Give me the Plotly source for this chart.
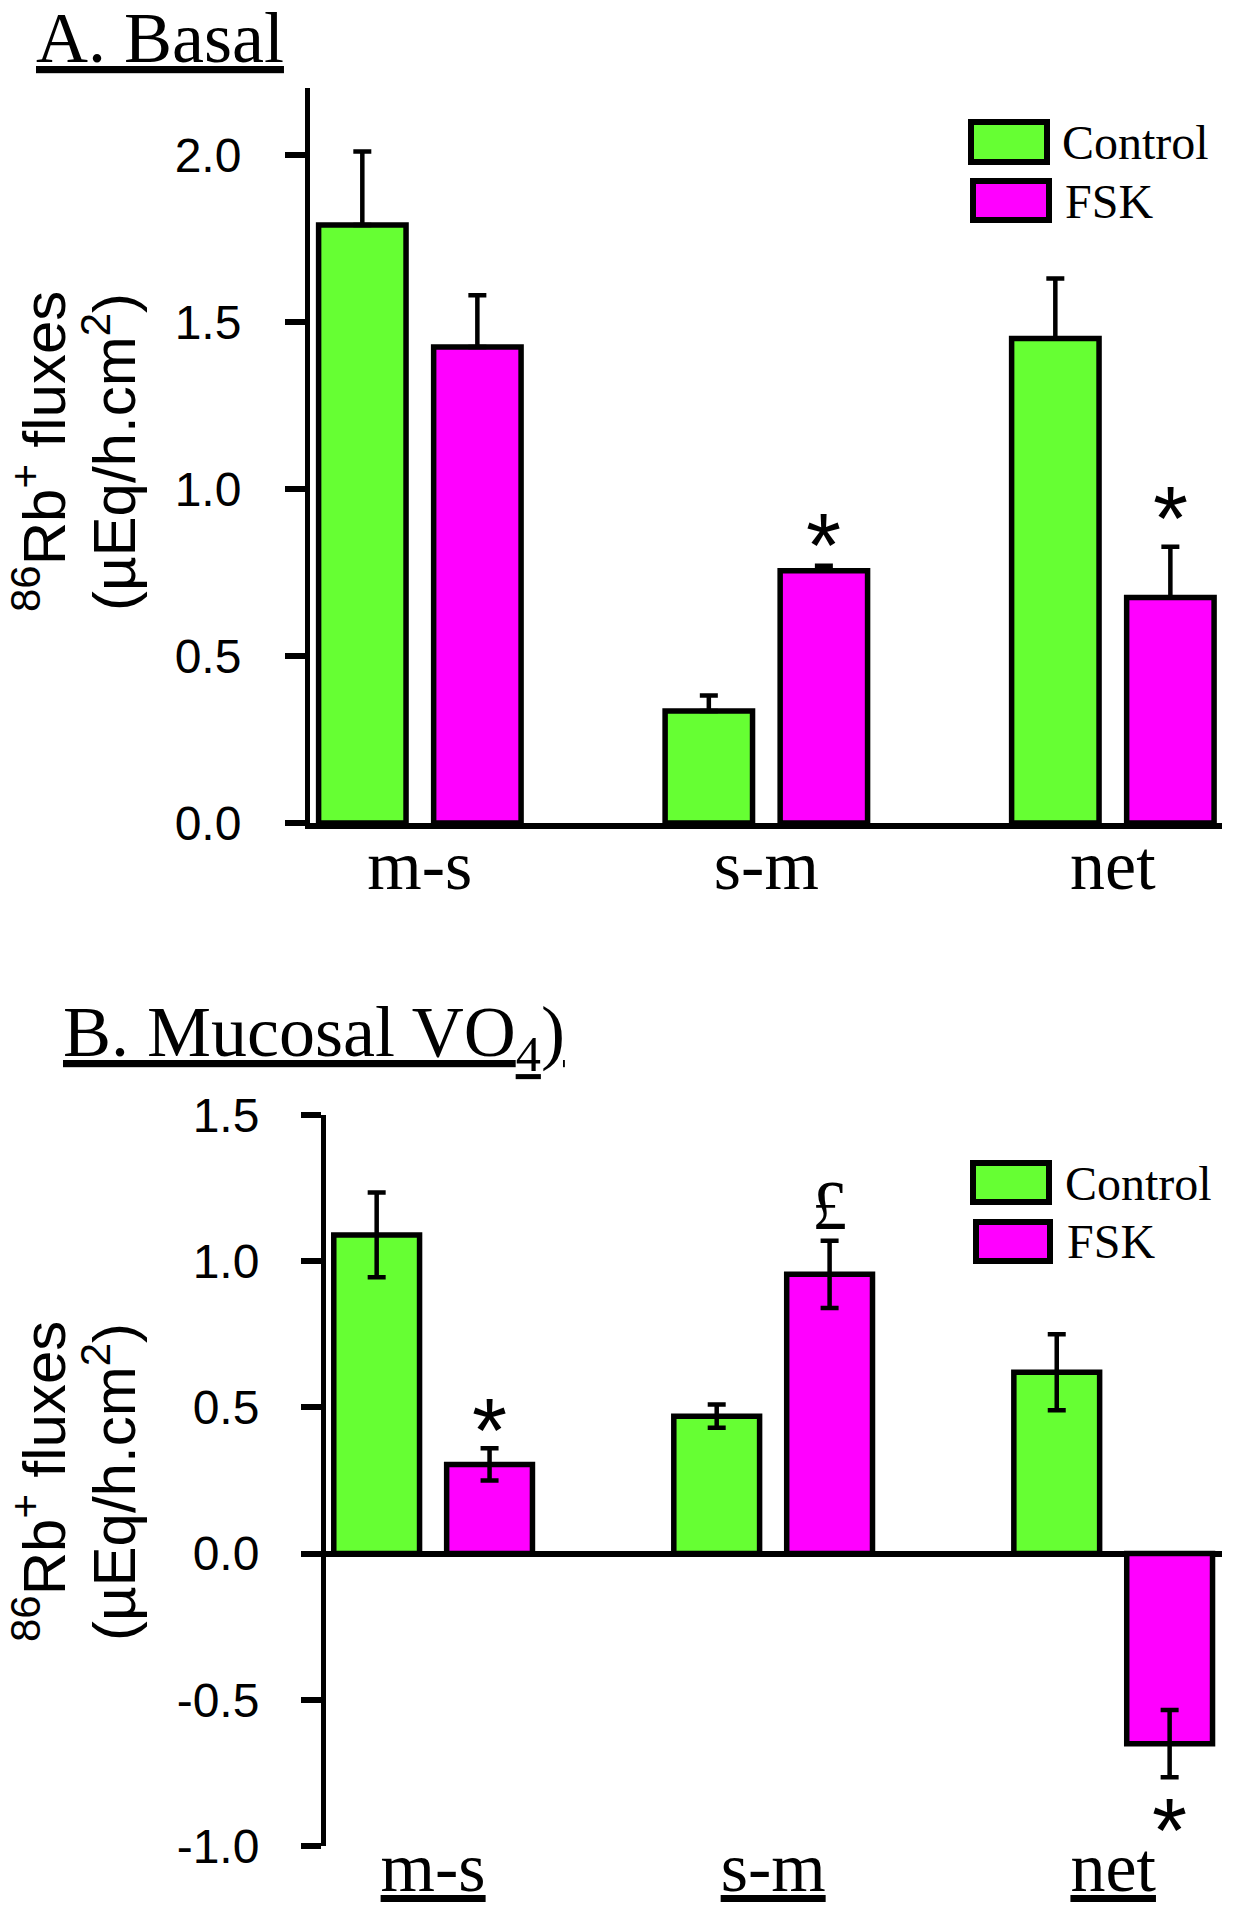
import plotly.graph_objects as go

categories = ["m-s", "s-m", "net"]
series_names = ["Control", "FSK"]

# Panel A: Basal
a_control = [1.79, 0.335, 1.45]
a_control_err = [0.22, 0.047, 0.18]
a_fsk = [1.425, 0.755, 0.675]
a_fsk_err = [0.155, 0.015, 0.152]

# Panel B: Mucosal VO4
b_control = [1.09, 0.47, 0.62]
b_control_err = [0.145, 0.04, 0.13]
b_fsk = [0.305, 0.955, -0.65]
b_fsk_err = [0.055, 0.115, 0.115]

a_ticks = [0.0, 0.5, 1.0, 1.5, 2.0]
b_ticks = [-1.0, -0.5, 0.0, 0.5, 1.0, 1.5]

GREEN = "#66FF33"
MAGENTA = "#FF00FF"
SERIF = "Liberation Serif"
SANS = "Liberation Sans"

W, H = 1234, 1920


def px(x):
    return x / W


def py(y):
    return 1 - y / H


fig = go.Figure()

err_style = dict(color="black", thickness=4.5, width=9)
bar_line = dict(color="black", width=5.5)

fig.add_trace(go.Bar(x=categories, y=a_control, name=series_names[0], marker=dict(color=GREEN, line=bar_line),
                     error_y=dict(type="data", symmetric=False, array=a_control_err, arrayminus=[0] * 3, **err_style),
                     xaxis="x", yaxis="y", showlegend=False))
fig.add_trace(go.Bar(x=categories, y=a_fsk, name=series_names[1], marker=dict(color=MAGENTA, line=bar_line),
                     error_y=dict(type="data", symmetric=False, array=a_fsk_err, arrayminus=[0] * 3, **err_style),
                     xaxis="x", yaxis="y", showlegend=False))
fig.add_trace(go.Bar(x=categories, y=b_control, name=series_names[0], marker=dict(color=GREEN, line=bar_line),
                     error_y=dict(type="data", array=b_control_err, **err_style),
                     xaxis="x2", yaxis="y2", showlegend=False))
fig.add_trace(go.Bar(x=categories, y=b_fsk, name=series_names[1], marker=dict(color=MAGENTA, line=bar_line),
                     error_y=dict(type="data", array=b_fsk_err, **err_style),
                     xaxis="x2", yaxis="y2", showlegend=False))

tickfont = dict(family=SANS, size=48, color="black")
catfont = dict(family=SERIF, size=70, color="black")

fig.update_layout(
    width=W, height=H,
    margin=dict(l=0, r=0, t=0, b=0, autoexpand=False),
    paper_bgcolor="white", plot_bgcolor="white",
    barmode="group", bargap=0.336, bargroupgap=0.24,
    showlegend=False,
    xaxis=dict(domain=[px(310), px(1222)], type="category", range=[-0.317, 2.315], automargin=False,
               showline=True, linecolor="black", linewidth=6, ticks="", showgrid=False,
               tickfont=catfont, anchor="y", ticklabelstandoff=-24),
    yaxis=dict(domain=[py(823), py(88)], range=[0, 2.2], tickvals=a_ticks, ticktext=[f"{v:.1f}" for v in a_ticks],
               showline=True, linecolor="black", linewidth=5, ticks="outside", ticklen=20, tickwidth=6,
               tickcolor="black", showgrid=False, zeroline=False, tickfont=tickfont, ticklabelstandoff=34,
               anchor="x", automargin=False),
    xaxis2=dict(domain=[px(326), px(1222)], type="category", range=[-0.315, 2.32], automargin=False,
                showline=False, ticks="", showgrid=False, anchor="y2",
                tickvals=categories, ticktext=[f"<u>{c}</u>" for c in categories],
                tickfont=catfont, ticklabelstandoff=-26),
    yaxis2=dict(domain=[py(1846), py(1115)], range=[-1.0, 1.5], tickvals=b_ticks, ticktext=[f"{v:.1f}" for v in b_ticks],
                showline=True, linecolor="black", linewidth=5, ticks="outside", ticklen=20, tickwidth=6,
                tickcolor="black", showgrid=False, zeroline=True, zerolinecolor="black", zerolinewidth=6,
                tickfont=tickfont, ticklabelstandoff=32, anchor="x2", automargin=False),
)

ann = []
# Titles
ann.append(dict(text="<u>A. Basal</u>", x=px(34), y=py(38), xref="paper", yref="paper", xanchor="left", yanchor="middle",
                showarrow=False, font=dict(family=SERIF, size=72, color="black")))
ann.append(dict(text="<u>B. Mucosal VO<sub>4</sub>)</u>", x=px(61), y=py(1037), xref="paper", yref="paper", xanchor="left",
                yanchor="middle", showarrow=False, font=dict(family=SERIF, size=72, color="black")))
# Y axis titles
for yc in (452, 1482):
    ann.append(dict(text="<sup>86</sup>Rb<sup>+</sup> fluxes", x=px(40), y=py(yc), xref="paper", yref="paper",
                    textangle=-90, showarrow=False, xanchor="center", yanchor="middle",
                    font=dict(family=SANS, size=60, color="black")))
    ann.append(dict(text="(µEq/h.cm<sup>2</sup>)", x=px(110), y=py(yc), xref="paper", yref="paper",
                    textangle=-90, showarrow=False, xanchor="center", yanchor="middle",
                    font=dict(family=SANS, size=60, color="black")))

off = 0.166
star_font = dict(family=SANS, size=90, color="black")
# Panel A significance marks
ann.append(dict(text="*", x=1 + off, y=0.83, xref="x", yref="y", showarrow=False, font=star_font))
ann.append(dict(text="*", x=2 + off, y=0.91, xref="x", yref="y", showarrow=False, font=star_font))
# Panel B significance marks
ann.append(dict(text="*", x=0 + off, y=0.42, xref="x2", yref="y2", showarrow=False, font=star_font))
ann.append(dict(text="£", x=1 + off, y=1.19, xref="x2", yref="y2", showarrow=False,
                font=dict(family=SERIF, size=70, color="black")))
ann.append(dict(text="*", x=2 + off, y=-0.95, xref="x2", yref="y2", showarrow=False, font=star_font))

shapes = []
# Manual legends
legends = [
    [(971, 122, 1047, 162, 1060, 142), (973, 181, 1049, 220, 1063, 201)],
    [(973, 1163, 1049, 1202, 1063, 1183), (976, 1222, 1050, 1261, 1065, 1241)],
]
for items in legends:
    for (x0, y0, x1, y1, tx, ty), name, col in zip(items, series_names, [GREEN, MAGENTA]):
        shapes.append(dict(type="rect", xref="paper", yref="paper", x0=px(x0), x1=px(x1), y0=py(y1), y1=py(y0),
                           fillcolor=col, line=dict(color="black", width=6)))
        ann.append(dict(text=name, x=px(tx), y=py(ty), xref="paper", yref="paper", xanchor="left", yanchor="middle",
                        showarrow=False, font=dict(family=SERIF, size=48, color="black")))

fig.update_layout(annotations=ann, shapes=shapes)

fig.write_html("out.html", config={"displayModeBar": False},
               post_script="document.body.style.margin='0';")
